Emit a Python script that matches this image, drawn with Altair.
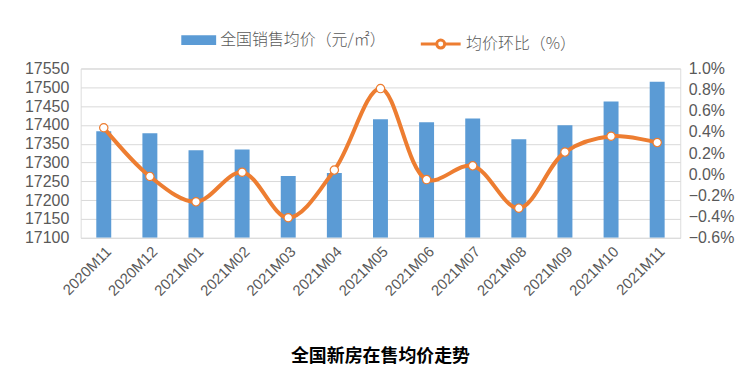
import altair as alt
import pandas as pd

months = ["2020M11", "2020M12", "2021M01", "2021M02", "2021M03", "2021M04", "2021M05",
          "2021M06", "2021M07", "2021M08", "2021M09", "2021M10", "2021M11"]
price = [17383, 17378, 17333, 17335, 17264, 17272, 17415, 17407, 17417, 17362, 17399, 17462, 17515]
mom_pct = [0.44, -0.02, -0.26, 0.02, -0.41, 0.04, 0.81, -0.05, 0.08, -0.32, 0.21, 0.36, 0.30]

bar_name = "全国销售均价（元/㎡）"
line_name = "均价环比（%）"

df = pd.DataFrame({"month": months, "price": price, "pct": [v / 100 for v in mom_pct],
                   "s1": bar_name, "s2": line_name})

latin = "Liberation Sans Narrow, Liberation Sans, sans-serif"
cjk = "Noto Sans CJK SC"
grey = "#595959"

x = alt.X("month:N", sort=months, title=None,
          axis=alt.Axis(labelAngle=-45, labelFontSize=15, labelColor=grey, labelFont=latin,
                        ticks=False, domain=False, labelPadding=6),
          scale=alt.Scale(paddingInner=0.68, paddingOuter=0.34))

pct_scale = alt.Scale(domain=[-0.006, 0.01], nice=False, zero=False)
pct_axis = alt.Axis(orient="right", format=".1%",
                    values=[-0.006, -0.004, -0.002, 0, 0.002, 0.004, 0.006, 0.008, 0.01],
                    labelFontSize=16, labelColor=grey, labelFont=latin, ticks=False,
                    domain=False, grid=False, labelPadding=8)

bars = alt.Chart(df).mark_bar(size=15, clip=True).encode(
    x=x,
    y=alt.Y("price:Q", title=None,
            scale=alt.Scale(domain=[17100, 17550], nice=False, zero=False),
            axis=alt.Axis(values=list(range(17100, 17551, 50)), format="d", labelFontSize=16,
                          labelColor=grey, labelFont=latin, ticks=False, domain=False,
                          gridColor="#D9D9D9", labelPadding=12)),
    y2=alt.datum(17100),
    fill=alt.Fill("s1:N", title=None,
                  scale=alt.Scale(range=["#5B9BD5"]),
                  legend=alt.Legend(orient="none", legendX=101, legendY=-46,
                                    symbolType="M-1,-0.28H1V0.28H-1Z", symbolSize=1225,
                                    symbolStrokeWidth=0, labelFont=cjk, labelFontSize=16,
                                    labelColor=grey, labelFontWeight=300, labelLimit=400)),
)

line = alt.Chart(df).mark_line(interpolate="catmull-rom", strokeWidth=4).encode(
    x=x,
    y=alt.Y("pct:Q", title=None, scale=pct_scale, axis=pct_axis),
    stroke=alt.Stroke("s2:N", title=None,
                      scale=alt.Scale(range=["#ED7D31"]),
                      legend=alt.Legend(orient="none", legendX=340, legendY=-46,
                                        symbolType="M-1,0H-0.2M0.2,0H1M0.2,0A0.2,0.2 0 1,1 -0.2,0A0.2,0.2 0 1,1 0.2,0",
                                        symbolSize=1600, symbolStrokeWidth=3,
                                        symbolFillColor="white",
                                        labelFont=cjk, labelFontSize=16, labelColor=grey,
                                        labelFontWeight=300, labelLimit=400)),
)

points = alt.Chart(df).mark_point(filled=True, fill="white", stroke="#ED7D31",
                                  strokeWidth=1.2, size=70, opacity=1).encode(
    x=x,
    y=alt.Y("pct:Q", title=None, scale=pct_scale, axis=pct_axis),
)

chart = alt.layer(bars, alt.layer(line, points)).resolve_scale(
    y="independent", fill="independent", stroke="independent"
).properties(
    width=602, height=170,
    title=alt.TitleParams("全国新房在售均价走势", orient="bottom", font=cjk, fontSize=18,
                          fontWeight="bold", color="black", offset=50, anchor="middle"),
    padding={"left": 16, "top": 14, "right": 5, "bottom": 5},
).configure_view(stroke=None, strokeWidth=0).configure(background="white")

chart.save("out.html", embed_options={"renderer": "svg", "actions": False})
